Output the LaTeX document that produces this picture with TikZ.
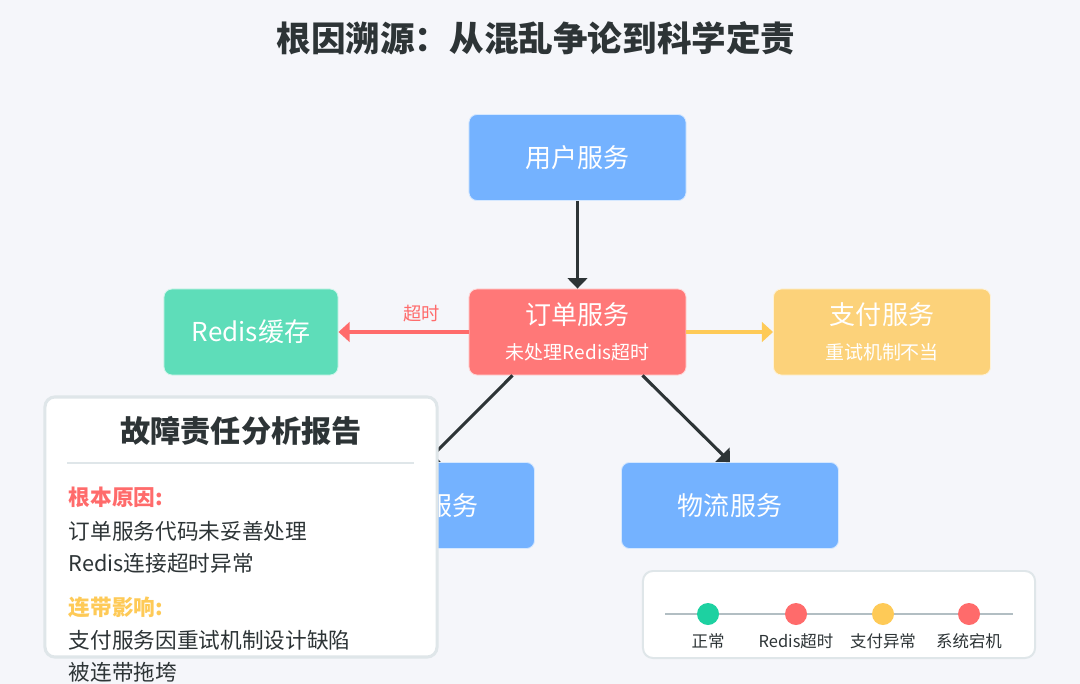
\documentclass[tikz,border=0pt]{standalone}
\usepackage{fontspec}
\setmainfont{Noto Sans CJK SC}
\usepackage{tikz}
\usetikzlibrary{arrows.meta}

\definecolor{bgcol}{HTML}{F5F6FA}
\definecolor{darkcol}{HTML}{2D3436}
\definecolor{bluecol}{HTML}{74B2FF}
\definecolor{redbox}{HTML}{FF7878}
\definecolor{greenbox}{HTML}{5EDDB9}
\definecolor{yellowbox}{HTML}{FCD27A}
\definecolor{redcol}{HTML}{FF6B6B}
\definecolor{yellowcol}{HTML}{FECA57}
\definecolor{greencol}{HTML}{1DD1A1}
\definecolor{bordercol}{HTML}{DFE6E9}
\definecolor{linecol}{HTML}{B2BEC3}

\newcommand{\subsize}{\fontsize{13.5}{16}\selectfont}

\tikzset{
  svcbox/.style={rectangle, rounded corners=0.2cm, draw=white!70!#1, line width=0.6pt,
    fill=#1, text=white, minimum width=5.425cm, minimum height=2.15cm, align=center,
    font=\fontsize{18.5}{25}\selectfont},
  smallbox/.style={svcbox=#1, minimum width=4.35cm},
  darrow/.style={draw=darkcol, line width=2.2pt, -{Triangle[length=7.5pt,width=14pt]}},
  carrow/.style={draw=#1, line width=2.2pt, -{Triangle[length=8pt,width=14pt]}},
  panel/.style={rectangle, rounded corners=0.25cm, draw=bordercol, line width=2.2pt, fill=white},
  reptext/.style={anchor=west, text=darkcol, font=\fontsize{15.4}{18}\selectfont},
  rephead/.style={anchor=west, text=#1, font=\fontsize{15.4}{18}\selectfont\bfseries},
  dot/.style={circle, fill=#1, minimum size=0.55cm, inner sep=0pt},
  legtext/.style={text=darkcol, font=\fontsize{11.7}{14}\selectfont}
}

\begin{document}
\begin{tikzpicture}[x=0.025cm, y=-0.025cm]
\fill[bgcol] (0,0) rectangle (1080,684);
\useasboundingbox (0,0) rectangle (1080,684);

% title
\node[text=darkcol, font=\fontsize{24.6}{29}\selectfont\bfseries] (title) at (536,38) {根因溯源：从混乱争论到科学定责};

% services
\node[svcbox=bluecol] (user) at (577.5,157.5) {用户服务};
\node[svcbox=redbox] (order) at (577.5,332) {订单服务\\{\subsize 未处理Redis超时}};
\node[smallbox=greenbox] (redis) at (251,332) {Redis缓存};
\node[svcbox=yellowbox] (pay) at (882,332) {支付服务\\{\subsize 重试机制不当}};
\node[svcbox=bluecol] (stock) at (426,505.5) {库存服务};
\node[svcbox=bluecol] (logis) at (730,505.5) {物流服务};

% calls
\draw[darrow] (user) -- (order);
\draw[carrow=redcol] (order) -- node[pos=0.36, above=3pt, text=redcol, font=\fontsize{13}{15}\selectfont] (tolabel) {超时} (redis);
\draw[carrow=yellowcol] (order) -- (pay);
\draw[darrow] ([xshift=-1.625cm]order.south) -- (stock.north);
\draw[darrow] ([xshift=1.625cm]order.south) -- (logis.north);

% report panel
\node[panel, minimum width=9.8cm, minimum height=6.5cm] (report) at (241,527) {};
\node[text=darkcol, font=\fontsize{21.5}{25}\selectfont\bfseries] (reptitle) at (241,431) {故障责任分析报告};
\draw[bordercol, line width=1.4pt] (67,463) -- (414,463);
\node[rephead=redcol] (cause) at (64,497) {根本原因:};
\node[reptext] (cause1) at (64,531) {订单服务代码未妥善处理};
\node[reptext] (cause2) at (64,563) {Redis连接超时异常};
\node[rephead=yellowcol] (effect) at (64,607) {连带影响:};
\node[reptext] (effect1) at (64,640) {支付服务因重试机制设计缺陷};
\node[reptext] (effect2) at (64,672) {被连带拖垮};

% legend
\node[panel, draw=bordercol, line width=1.4pt, minimum width=9.8cm, minimum height=2.175cm] (legend) at (839,614.5) {};
\coordinate (lstart) at (665,614);
\coordinate (lend) at (1013,614);
\draw[linecol, line width=1.4pt] (lstart) -- (lend);
\foreach \x/\c/\t/\n in {708/greencol/正常/a, 796/redcol/Redis超时/b, 883/yellowcol/支付异常/c, 969/redcol/系统宕机/d} {
\node[dot=\c] (dot\n) at (\x,614) {};
\node[legtext] (lab\n) at (\x,641) {\t};
}
\end{tikzpicture}
\end{document}
